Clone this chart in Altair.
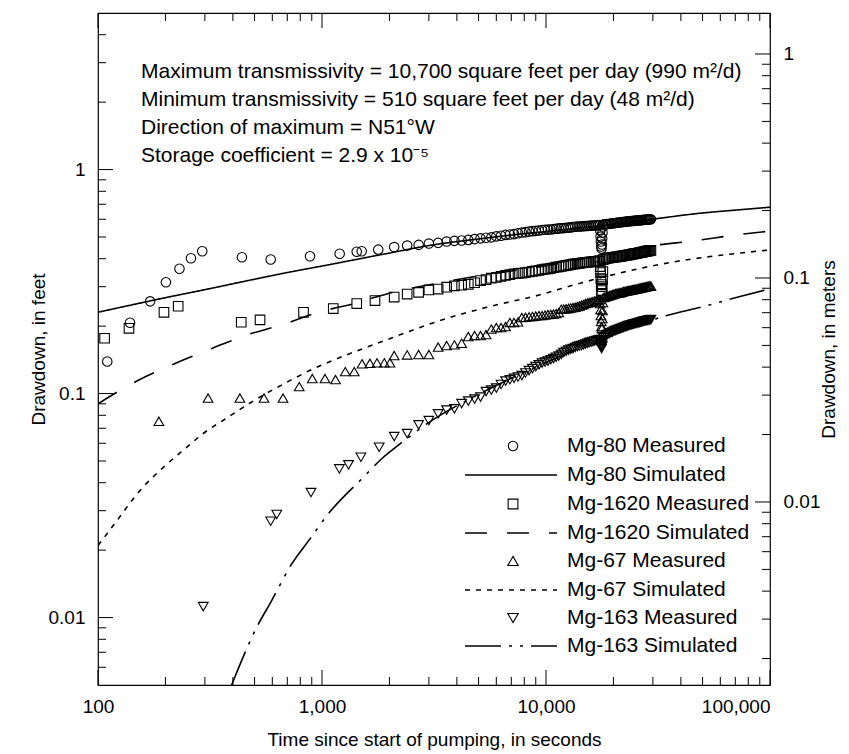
import altair as alt
import pandas as pd

FONT = "Liberation Sans"

# ---------------- measured data (time in s, drawdown in ft) ----------------
T_LATE_A = [2100, 2400, 2700, 3000, 3300, 3600, 3900, 4200, 4500, 4800, 5100, 5400, 5700, 6000,
            6300, 6600, 6900, 7200, 7500, 7800, 8100, 8400, 8700, 9000, 9300, 9600, 9900, 10200,
            10500, 10800, 11100, 11400, 11700, 12000, 12300, 12600, 12900, 13200, 13500, 13800,
            14100, 14400, 14700, 15000, 15300, 15600, 15900, 16200, 16500, 16800, 17100, 17400]
T_JUMP = [17460, 17520, 17580, 17640, 17700, 17760, 17820, 17880, 17940]
T_LATE_B = [18000, 18300, 18600, 18900, 19200, 19500, 19800, 20100, 20400, 20700, 21000, 21300,
            21600, 21900, 22200, 22500, 22800, 23100, 23400, 23700, 24000, 24300, 24600, 24900,
            25200, 25500, 25800, 26100, 26400, 26700, 27000, 27300, 27600, 27900, 28200, 28500,
            28800, 29100, 29400]

M80_T0 = [110, 139, 171, 201, 231, 260, 292, 439, 590, 884, 1199, 1429, 1504, 1783]
M80_D0 = [0.139, 0.207, 0.258, 0.314, 0.361, 0.402, 0.432, 0.406, 0.397, 0.410, 0.421, 0.430, 0.432, 0.439]
M80_DA = [0.4508, 0.4578, 0.4611, 0.4673, 0.4707, 0.4770, 0.4805, 0.4820, 0.4854, 0.4894, 0.4930,
          0.4960, 0.4981, 0.5032, 0.5066, 0.5110, 0.5128, 0.5152, 0.5195, 0.5233, 0.5255, 0.5287,
          0.5310, 0.5325, 0.5343, 0.5369, 0.5388, 0.5396, 0.5405, 0.5424, 0.5447, 0.5463, 0.5468,
          0.5480, 0.5497, 0.5508, 0.5519, 0.5537, 0.5555, 0.5566, 0.5569, 0.5577, 0.5588, 0.5594,
          0.5599, 0.5611, 0.5620, 0.5623, 0.5631, 0.5646, 0.5644, 0.5652]
M80_DJ = [0.5341, 0.5022, 0.4770, 0.4531, 0.4440, 0.4626, 0.4920, 0.5233, 0.5566]
M80_DB = [0.5681, 0.5697, 0.5710, 0.5716, 0.5728, 0.5743, 0.5752, 0.5760, 0.5775, 0.5790, 0.5799,
          0.5805, 0.5817, 0.5829, 0.5835, 0.5844, 0.5859, 0.5862, 0.5871, 0.5883, 0.5889, 0.5892,
          0.5901, 0.5913, 0.5919, 0.5922, 0.5932, 0.5941, 0.5944, 0.5947, 0.5956, 0.5965, 0.5968,
          0.5972, 0.5981, 0.5990, 0.5993, 0.5996, 0.6005]

M1620_T0 = [107, 137.5, 197, 228, 436, 529, 827, 1123, 1429, 1724]
M1620_D0 = [0.1766, 0.1956, 0.2306, 0.2453, 0.2081, 0.2133, 0.2306, 0.2396, 0.2523, 0.2601]
M1620_DA = [0.2696, 0.2780, 0.2830, 0.2903, 0.2927, 0.2985, 0.3025, 0.3047, 0.3075, 0.3123, 0.3195,
            0.3227, 0.3274, 0.3301, 0.3338, 0.3370, 0.3395, 0.3426, 0.3441, 0.3450, 0.3468, 0.3490,
            0.3513, 0.3529, 0.3550, 0.3577, 0.3595, 0.3606, 0.3622, 0.3644, 0.3666, 0.3681, 0.3695,
            0.3715, 0.3734, 0.3746, 0.3761, 0.3781, 0.3796, 0.3805, 0.3814, 0.3828, 0.3843, 0.3852,
            0.3855, 0.3864, 0.3877, 0.3884, 0.3887, 0.3896, 0.3907, 0.3912]
M1620_DJ = [0.3689, 0.3468, 0.3261, 0.3066, 0.2882, 0.2800, 0.3003, 0.3227, 0.3504]
M1620_DB = [0.3964, 0.3992, 0.4013, 0.4021, 0.4034, 0.4043, 0.4046, 0.4060, 0.4067, 0.4075, 0.4088,
            0.4100, 0.4105, 0.4111, 0.4122, 0.4136, 0.4144, 0.4149, 0.4160, 0.4174, 0.4182, 0.4190,
            0.4203, 0.4215, 0.4221, 0.4229, 0.4242, 0.4254, 0.4260, 0.4268, 0.4282, 0.4296, 0.4304,
            0.4310, 0.4321, 0.4333, 0.4339, 0.4346, 0.4358]

M67_T0 = [187, 310, 430, 551, 670, 791, 905, 1031, 1149, 1270, 1393, 1509, 1637, 1760, 1897, 2012]
M67_D0 = [0.0752, 0.0955, 0.0955, 0.0955, 0.0955, 0.1074, 0.1167, 0.1167, 0.1155, 0.1253, 0.1253,
          0.1357, 0.1365, 0.1371, 0.1371, 0.1371]
M67_DA = [0.1478, 0.1488, 0.1493, 0.1493, 0.1613, 0.1638, 0.1650, 0.1677, 0.1797, 0.1815, 0.1815,
          0.1834, 0.1940, 0.1971, 0.1971, 0.1991, 0.2075, 0.2075, 0.2090, 0.2184, 0.2190, 0.2200,
          0.2210, 0.2218, 0.2229, 0.2229, 0.2240, 0.2253, 0.2258, 0.2264, 0.2275, 0.2299, 0.2380,
          0.2383, 0.2390, 0.2400, 0.2410, 0.2421, 0.2430, 0.2446, 0.2460, 0.2483, 0.2500, 0.2522,
          0.2535, 0.2548, 0.2560, 0.2574, 0.2590, 0.2601, 0.2615, 0.2628]
M67_DJ = [0.2522, 0.2371, 0.2229, 0.2096, 0.1991, 0.1950, 0.2162, 0.2347, 0.2548]
M67_DB = [0.2682, 0.2696, 0.2710, 0.2724, 0.2738, 0.2752, 0.2766, 0.2780, 0.2795, 0.2802, 0.2810,
          0.2817, 0.2824, 0.2838, 0.2853, 0.2860, 0.2868, 0.2875, 0.2883, 0.2890, 0.2898, 0.2905,
          0.2912, 0.2920, 0.2927, 0.2935, 0.2943, 0.2950, 0.2958, 0.2965, 0.2973, 0.2980, 0.2988,
          0.2996, 0.3004, 0.3011, 0.3019, 0.3019, 0.3019]

M163_T0 = [295, 590, 628, 893, 1195, 1313, 1492, 1800]
M163_D0 = [0.01119, 0.02692, 0.02884, 0.03615, 0.04611, 0.04806, 0.05195, 0.05758]
M163_DA = [0.06428, 0.06629, 0.07249, 0.07577, 0.08117, 0.08441, 0.08545, 0.09023, 0.09258, 0.09450,
           0.09648, 0.10208, 0.10367, 0.10582, 0.1098, 0.11372, 0.1153, 0.11691, 0.1186, 0.12033,
           0.1235, 0.12668, 0.1293, 0.13200, 0.1344, 0.13683, 0.1382, 0.13967, 0.1415, 0.14331,
           0.1452, 0.14704, 0.1497, 0.15242, 0.1544, 0.15640, 0.1576, 0.15883, 0.1605, 0.16213,
           0.1630, 0.16381, 0.1651, 0.16634, 0.1676, 0.16893, 0.1698, 0.17068, 0.1716, 0.17244,
           0.1733, 0.17423]
M163_DJ = [0.1723, 0.1690, 0.1655, 0.1620, 0.1588, 0.1620, 0.1638, 0.1690, 0.1742]
M163_DB = [0.17784, 0.1801, 0.18247, 0.1839, 0.18532, 0.1868, 0.18819, 0.1897, 0.19112, 0.1921,
           0.19310, 0.1941, 0.19509, 0.1961, 0.19711, 0.1981, 0.19915, 0.2002, 0.20120, 0.2019,
           0.20266, 0.2035, 0.20433, 0.2049, 0.20538, 0.2061, 0.20686, 0.2075, 0.20814, 0.2089,
           0.20964, 0.2102, 0.21073, 0.2113, 0.21180, 0.2123, 0.21289, 0.2134, 0.21399]

# ---------------- simulated curves ----------------
S80_T = [100, 150, 200, 300, 500, 700, 1000, 2000, 3000, 5000, 7000, 10000, 20000, 30000, 50000, 70000, 100000]
S80_D = [0.2307, 0.252, 0.268, 0.291, 0.324, 0.347, 0.371, 0.424, 0.458, 0.490, 0.510, 0.529, 0.571,
         0.601, 0.640, 0.659, 0.679]
S1620_T = [100, 125, 156, 195, 240, 299, 378, 467, 574, 718, 898, 1104, 1379, 1725, 2230, 2739, 5077,
           10000, 17430, 30130, 45300, 71000, 100000]
S1620_D = [0.0900, 0.1031, 0.1164, 0.1289, 0.1413, 0.1543, 0.1694, 0.1834, 0.1945, 0.208, 0.2254, 0.2388,
           0.2515, 0.2692, 0.2884, 0.3005, 0.336, 0.372, 0.413, 0.458, 0.480, 0.511, 0.531]
S67_T = [100, 117, 154, 196, 244, 300, 380, 475, 584, 730, 912, 1028, 1945, 3365, 5433, 9400, 13250,
         18660, 26300, 37000, 52100, 73480, 100000]
S67_D = [0.02096, 0.02575, 0.0369, 0.0469, 0.0566, 0.0672, 0.0783, 0.0905, 0.1021, 0.1151, 0.1289, 0.1358,
         0.1738, 0.2118, 0.2428, 0.276, 0.305, 0.334, 0.362, 0.387, 0.407, 0.424, 0.438]
S163_T = [395, 461, 494, 596, 733, 884, 1067, 1529, 1878, 2230, 2934, 5077, 10000, 17430, 34600, 50350,
          73480, 100000]
S163_D = [0.005, 0.00725, 0.00845, 0.01191, 0.01738, 0.02245, 0.02904, 0.04229, 0.05196, 0.0596, 0.0732,
          0.100, 0.1375, 0.1742, 0.2230, 0.2446, 0.2711, 0.2934]

SERIES = ["Mg-80", "Mg-1620", "Mg-67", "Mg-163"]
SHAPES = ["circle", "square", "triangle-up", "triangle-down"]
SIZES = [90, 95, 110, 110]
DASHES = [[1, 0], [22, 20], [5, 6], [36, 8, 3, 8, 3, 8]]

ANNOT = [
    "Maximum transmissivity = 10,700 square feet per day (990 m\u00b2/d)",
    "Minimum transmissivity = 510 square feet per day  (48 m\u00b2/d)",
    "Direction of maximum = N51\u00b0W",
    "Storage coefficient = 2.9 x 10\u207b\u2075",
]

X_MAJOR = [100, 1000, 10000, 100000]
X_MINOR = [200, 300, 400, 500, 600, 700, 800, 900, 2000, 3000, 4000, 5000, 6000, 7000, 8000, 9000,
           20000, 30000, 40000, 50000, 60000, 70000, 80000, 90000]
YF_MAJOR = [0.01, 0.1, 1]
YF_MINOR = [0.006, 0.007, 0.008, 0.009, 0.02, 0.03, 0.04, 0.05, 0.06, 0.07, 0.08, 0.09,
            0.2, 0.3, 0.4, 0.5, 0.6, 0.7, 0.8, 0.9, 2, 3, 4]
YM_MAJOR = [0.01, 0.1, 1]
YM_MINOR = [0.002, 0.003, 0.004, 0.005, 0.006, 0.007, 0.008, 0.009, 0.02, 0.03, 0.04, 0.05, 0.06,
            0.07, 0.08, 0.09, 0.2, 0.3, 0.4, 0.5, 0.6, 0.7, 0.8, 0.9]
FT_PER_M = 3.28084

# ---------------- build tables ----------------
meas_rows = []
for name, t0, d0, da, dj, db in [
    ("Mg-80", M80_T0, M80_D0, M80_DA, M80_DJ, M80_DB),
    ("Mg-1620", M1620_T0, M1620_D0, M1620_DA, M1620_DJ, M1620_DB),
    ("Mg-67", M67_T0, M67_D0, M67_DA, M67_DJ, M67_DB),
    ("Mg-163", M163_T0, M163_D0, M163_DA, M163_DJ, M163_DB),
]:
    ts = t0 + T_LATE_A + T_JUMP + T_LATE_B
    ds = d0 + da + dj + db
    for t, d in zip(ts, ds):
        meas_rows.append({"series": name, "t": t, "d": d})
meas = pd.DataFrame(meas_rows)

sim_rows = []
for name, ts, ds in [("Mg-80", S80_T, S80_D), ("Mg-1620", S1620_T, S1620_D),
                     ("Mg-67", S67_T, S67_D), ("Mg-163", S163_T, S163_D)]:
    for t, d in zip(ts, ds):
        sim_rows.append({"series": name, "t": t, "d": d})
sim = pd.DataFrame(sim_rows)

W = 672
H = 672
XS = alt.Scale(type="log", domain=[100, 100000], nice=False)
YF = alt.Scale(type="log", domain=[0.005, 5], nice=False)
YM = alt.Scale(type="log", domain=[0.005 / FT_PER_M, 5 / FT_PER_M], nice=False)

COMMON = dict(ticks=False, domain=False, grid=False, labelFontSize=19, titleFontSize=19,
              labelFont=FONT, titleFont=FONT, labelColor="black", titleColor="black",
              titleFontWeight="normal", labelOverlap=False, labelBound=False, labelFlush=False)

X_AXIS = alt.Axis(values=X_MAJOR, format=",", labelPadding=12, titlePadding=14,
                  labelAlign={"condition": {"test": "datum.value >= 100000", "value": "right"},
                              "value": "center"},
                  title="Time since start of pumping,  in seconds", **COMMON)
YL_AXIS = alt.Axis(values=YF_MAJOR, format=".2~f", labelPadding=13, titlePadding=0,
                   title="Drawdown,  in feet", **COMMON)
YR_AXIS = alt.Axis(orient="right", values=YM_MAJOR, format=".2~f", labelPadding=13, titlePadding=19,
                   titleAngle=270, title="Drawdown,  in meters", **COMMON)

measured = alt.Chart(meas).mark_point(filled=False, strokeWidth=1.1, color="black", opacity=1).encode(
    x=alt.X("t:Q", scale=XS, axis=X_AXIS),
    y=alt.Y("d:Q", scale=YF, axis=YL_AXIS),
    shape=alt.Shape("series:N", scale=alt.Scale(domain=SERIES, range=SHAPES), legend=None),
    size=alt.Size("series:N", scale=alt.Scale(domain=SERIES, range=SIZES), legend=None),
)

simulated = alt.Chart(sim).mark_line(color="black", strokeWidth=1.6, clip=True,
                                     interpolate="monotone").encode(
    x=alt.X("t:Q", scale=XS, axis=X_AXIS),
    y=alt.Y("d:Q", scale=YF, axis=YL_AXIS),
    strokeDash=alt.StrokeDash("series:N", scale=alt.Scale(domain=SERIES, range=DASHES), legend=None),
    detail="series:N",
)


def xticks(vals, y0, y1):
    return alt.Chart(pd.DataFrame({"t": vals})).mark_rule(color="black", strokeWidth=1).encode(
        x=alt.X("t:Q", scale=XS, axis=X_AXIS), y=alt.value(y0), y2=alt.value(y1))


def yticks(vals, scale, axis, x0, x1):
    return alt.Chart(pd.DataFrame({"v": vals})).mark_rule(color="black", strokeWidth=1).encode(
        y=alt.Y("v:Q", scale=scale, axis=axis), x=alt.value(x0), x2=alt.value(x1))


MAJ = 15
MIN = 8
tick_layers = [
    xticks(X_MAJOR, H, H - MAJ), xticks(X_MINOR, H, H - MIN),
    xticks(X_MAJOR, 0, MAJ), xticks(X_MINOR, 0, MIN),
    yticks(YF_MAJOR, YF, YL_AXIS, 0, MAJ), yticks(YF_MINOR, YF, YL_AXIS, 0, MIN),
]

annot_layers = []
for i, line in enumerate(ANNOT):
    annot_layers.append(
        alt.Chart(pd.DataFrame({"txt": [line]})).mark_text(
            align="left", baseline="middle", fontSize=21, font=FONT, color="black").encode(
            text="txt:N", x=alt.value(43), y=alt.value(59 + 28 * i)))

LEG_LABELS = ["Mg-80 Measured", "Mg-80 Simulated", "Mg-1620 Measured", "Mg-1620 Simulated",
              "Mg-67 Measured", "Mg-67 Simulated", "Mg-163 Measured", "Mg-163 Simulated"]
LEG_Y = [433, 462, 491, 520, 548, 577, 605, 633]
legend_layers = []
for i, lab in enumerate(LEG_LABELS):
    legend_layers.append(
        alt.Chart(pd.DataFrame({"txt": [lab]})).mark_text(
            align="left", baseline="middle", fontSize=21, font=FONT, color="black").encode(
            text="txt:N", x=alt.value(469), y=alt.value(LEG_Y[i])))
    s = i // 2
    if i % 2 == 0:
        legend_layers.append(
            alt.Chart(pd.DataFrame({"series": [SERIES[s]]})).mark_point(
                filled=False, size=SIZES[s], strokeWidth=1.1, color="black", opacity=1,
                shape=SHAPES[s]).encode(
                x=alt.value(415), y=alt.value(LEG_Y[i])))
    else:
        legend_layers.append(
            alt.Chart(pd.DataFrame({"series": [SERIES[s]]})).mark_rule(
                color="black", strokeWidth=1.6, strokeDash=DASHES[s]).encode(
                x=alt.value(367), x2=alt.value(459), y=alt.value(LEG_Y[i])))

feet_group = alt.layer(measured, simulated, *tick_layers, *annot_layers, *legend_layers)
meter_group = alt.layer(
    yticks(YM_MAJOR, YM, YR_AXIS, W - MAJ, W),
    yticks(YM_MINOR, YM, YR_AXIS, W - MIN, W),
)

chart = alt.layer(feet_group, meter_group).resolve_scale(y="independent").properties(
    width=W, height=H,
    padding={"left": 90, "top": 5, "right": 71, "bottom": 66},
    autosize=alt.AutoSizeParams(type="none"),
    background="white",
).configure_view(stroke="black", strokeWidth=1.2)

chart.save("out.html", embed_options={"renderer": "svg", "actions": False})
